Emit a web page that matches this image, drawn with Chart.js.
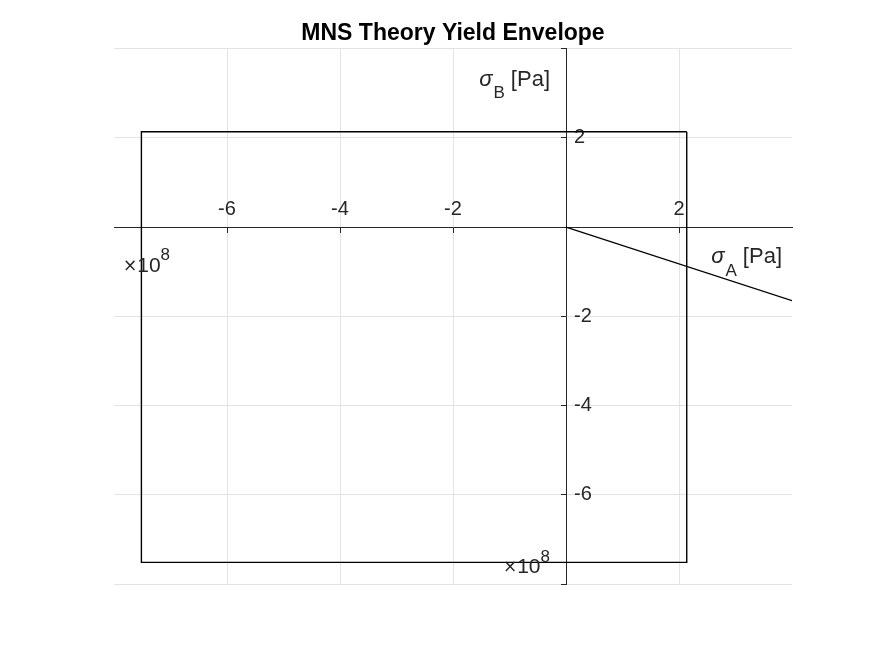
<!DOCTYPE html>
<html>
<head>
<meta charset="utf-8">
<title>MNS Theory Yield Envelope</title>
<script src="https://cdn.jsdelivr.net/npm/chart.js@4.4.1/dist/chart.umd.min.js"></script>
<style>
  html, body { margin: 0; padding: 0; background: #fff; }
  #wrap { width: 875px; height: 656px; }
</style>
</head>
<body>
<div id="wrap"><canvas id="chart"></canvas></div>
<script>
const FONT = '"Liberation Sans", Arial, Helvetica, sans-serif';
const TEXT = "#262626";

// MNS envelope (gray cast iron, Sut / Suc) and load line, in Pa
const envelopeA = [2.137e8, -7.515e8, -7.515e8, 2.137e8, 2.137e8];
const envelopeB = [2.137e8, 2.137e8, -7.515e8, -7.515e8, 2.137e8];
const loadA = [0, 4.0e8];
const loadB = [0, -1.65e8];

// axis limits and tick labels (x1e8)
const axisMin = -8e8;
const axisMax = 4e8;
const tickStep = 2e8;
const xTickShown = [-6, -4, -2, 2];
const yTickShown = [2, -2, -4, -6];

const toPoints = (xs, ys) => xs.map((x, i) => ({ x: x, y: ys[i] }));

const tickLabel = shown => value => {
  const v = Math.round(value / 1e8);
  return shown.includes(v) ? String(v) : null;
};

// draws a run of text pieces (sub/superscripts) from one anchor
function drawParts(ctx, parts, x, y, align) {
  let w = 0;
  parts.forEach(p => { ctx.font = p.font; w += ctx.measureText(p.text).width + (p.dx || 0); });
  let cx = align === "right" ? x - w : x;
  parts.forEach(p => {
    ctx.font = p.font;
    cx += p.dx || 0;
    ctx.fillText(p.text, cx, y + (p.dy || 0));
    cx += ctx.measureText(p.text).width;
  });
}

const axisText = {
  id: "axisText",
  afterDraw(chart) {
    const { ctx, chartArea } = chart;
    const x0 = chart.scales.x.getPixelForValue(0);
    const y0 = chart.scales.y.getPixelForValue(0);
    ctx.save();
    ctx.fillStyle = TEXT;
    ctx.textBaseline = "alphabetic";
    ctx.textAlign = "left";
    const big = "22px " + FONT, sub = "17px " + FONT, sig = "italic 22px " + FONT;
    // y label
    drawParts(ctx, [
      { text: "σ", font: sig },
      { text: "B", font: sub, dy: 12, dx: 1 },
      { text: " [Pa]", font: big }
    ], x0 - 16, chartArea.top + 37, "right");
    // x label
    drawParts(ctx, [
      { text: "σ", font: sig },
      { text: "A", font: sub, dy: 13, dx: 1 },
      { text: " [Pa]", font: big }
    ], chartArea.right - 10, y0 + 36, "right");
    // exponents
    const t = "21px " + FONT, sup = "17px " + FONT, times = '17px "DejaVu Sans", sans-serif';
    drawParts(ctx, [
      { text: "×", font: times, dy: -1 },
      { text: "10", font: t },
      { text: "8", font: sup, dy: -12 }
    ], chartArea.left + 9, y0 + 45, "left");
    drawParts(ctx, [
      { text: "×", font: times, dy: -1 },
      { text: "10", font: t },
      { text: "8", font: sup, dy: -11 }
    ], x0 - 16, chartArea.bottom - 11, "right");
    ctx.restore();
  }
};

const grid = {
  color: "#e3e3e3",
  lineWidth: 1,
  drawTicks: true,
  tickLength: 5,
  tickColor: TEXT,
  tickWidth: 1
};

new Chart(document.getElementById("chart"), {
  type: "scatter",
  data: {
    datasets: [
      {
        label: "MNS envelope",
        data: toPoints(envelopeA, envelopeB),
        showLine: true,
        borderColor: "#000",
        borderWidth: 1.4,
        pointRadius: 0,
        yAxisID: "y"
      },
      {
        label: "Load line",
        data: toPoints(loadA, loadB),
        showLine: true,
        borderColor: "#000",
        borderWidth: 1.2,
        pointRadius: 0,
        yAxisID: "y"
      }
    ]
  },
  options: {
    responsive: true,
    maintainAspectRatio: false,
    animation: false,
    layout: { padding: { left: 114, right: 83, top: 7, bottom: 72 } },
    plugins: {
      legend: { display: false },
      tooltip: { enabled: false },
      title: {
        display: true,
        fullSize: false,
        text: "MNS Theory Yield Envelope",
        color: "#000",
        font: { family: FONT, size: 23, weight: "bold" },
        padding: { top: 13, bottom: 1 }
      }
    },
    scales: {
      x: {
        type: "linear",
        position: { y: 0 },
        min: axisMin,
        max: axisMax,
        grid: grid,
        border: { display: true, color: TEXT, width: 1 },
        afterFit: scale => { scale.paddingLeft = 0; scale.paddingRight = 0; },
        ticks: {
          stepSize: tickStep,
          padding: -35,
          color: TEXT,
          maxRotation: 0,
          font: { family: FONT, size: 20 },
          callback: tickLabel(xTickShown)
        }
      },
      y: {
        type: "linear",
        position: { x: 0 },
        min: axisMin,
        max: axisMax,
        grid: grid,
        border: { display: true, color: TEXT, width: 1 },
        ticks: { stepSize: tickStep, display: false }
      },
      y2: {
        type: "linear",
        position: "left",
        min: axisMin,
        max: axisMax,
        grid: { display: false, drawTicks: false },
        border: { display: false },
        // labels sit right of the origin axis; keep this scale from taking space
        afterFit: scale => {
          scale.width = 0;
          scale.paddingTop = 0;
          scale.paddingBottom = 0;
        },
        ticks: {
          stepSize: tickStep,
          mirror: true,
          padding: 460,
          color: TEXT,
          font: { family: FONT, size: 20 },
          callback: tickLabel(yTickShown)
        }
      }
    }
  },
  plugins: [axisText]
});
</script>
</body>
</html>
